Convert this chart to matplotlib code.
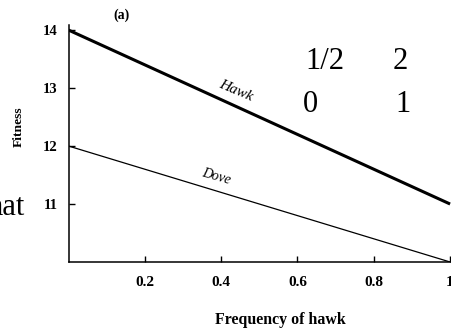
import matplotlib
matplotlib.use("Agg")
import matplotlib.pyplot as plt
import numpy as np

# Data
freq_hawk = [0.0, 1.0]
hawk_fitness = [14.0, 11.0]
dove_fitness = [12.0, 10.0]
x_ticks = [0.2, 0.4, 0.6, 0.8, 1.0]
x_ticklabels = ["0.2", "0.4", "0.6", "0.8", "1"]
y_ticks = [11, 12, 13, 14]
y_ticklabels = ["11", "12", "13", "14"]

W, H = 452, 332
fig = plt.figure(figsize=(W / 100, H / 100), dpi=100)
fig.patch.set_facecolor("white")

left = 68.5 / W
bottom = 1 - 262 / H
top = 1 - 25 / H
ax = fig.add_axes([left, bottom, 1.0 - left, top - bottom])

ax.plot(freq_hawk, hawk_fitness, color="black", lw=2.2, solid_capstyle="butt")
ax.plot(freq_hawk, dove_fitness, color="black", lw=0.9, solid_capstyle="butt")

ax.set_xlim(0, 1.005)
ax.set_ylim(10, 14.087)

for s in ["top", "right"]:
    ax.spines[s].set_visible(False)
for s in ["left", "bottom"]:
    ax.spines[s].set_linewidth(1.1)

serif = "Liberation Serif"
ax.set_xticks(x_ticks)
ax.set_xticklabels(x_ticklabels, fontfamily=serif, fontweight="bold", fontsize=11)
ax.set_yticks(y_ticks)
ax.set_yticklabels(y_ticklabels, fontfamily=serif, fontweight="bold", fontsize=10.5)
ax.tick_params(axis="x", direction="in", length=4, width=1, pad=10)
ax.tick_params(axis="y", direction="in", length=4, width=1, pad=8)

ax.text(0.438, 12.95, "Hawk", fontfamily=serif, fontstyle="italic", fontsize=11,
        rotation=-23, ha="center", va="center")
ax.text(0.386, 11.47, "Dove", fontfamily=serif, fontstyle="italic", fontsize=10,
        rotation=-16, ha="center", va="center")

fig.text(280 / W, 1 - 320 / H, "Frequency of hawk", fontfamily=serif, fontweight="bold",
         fontsize=11.4, ha="center", va="center")
fig.text(19 / W, 1 - 127 / H, "Fitness", fontfamily=serif, fontweight="bold",
         fontsize=9.7, rotation=90, ha="center", va="center")
fig.text(121 / W, 1 - 15 / H, "(a)", fontfamily=serif, fontweight="bold",
         fontsize=10, ha="center", va="center")

# Overlay texts
fig.text(305 / W, 1 - 69 / H, "1/2", fontfamily=serif, fontsize=22, ha="left", va="baseline")
fig.text(393 / W, 1 - 69 / H, "2", fontfamily=serif, fontsize=22, ha="left", va="baseline")
fig.text(303 / W, 1 - 112 / H, "0", fontfamily=serif, fontsize=22, ha="left", va="baseline")
fig.text(395 / W, 1 - 112 / H, "1", fontfamily=serif, fontsize=22, ha="left", va="baseline")
fig.text(25 / W, 1 - 215 / H, "hat", fontfamily=serif, fontsize=22, ha="right", va="baseline")

fig.savefig("out.png", dpi=100, facecolor="white")
